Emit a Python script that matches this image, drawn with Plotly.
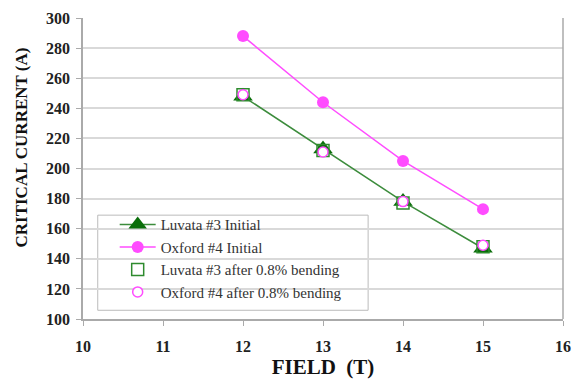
import plotly.graph_objects as go

field = [12, 13, 14, 15]
luvata_initial = [248, 213, 178, 147]
oxford_initial = [288, 244, 205, 173]
luvata_bent = [249, 212, 177, 148]
oxford_bent = [249, 211, 178, 149]

names = ["Luvata #3 Initial", "Oxford #4 Initial",
         "Luvata #3 after 0.8% bending", "Oxford #4 after 0.8% bending"]

x_ticks = [10, 11, 12, 13, 14, 15, 16]
y_ticks = [100, 120, 140, 160, 180, 200, 220, 240, 260, 280, 300]

green_line = "#3C8C3C"
green_fill = "#0A6E0A"
pink = "#FF4CFF"
serif = "Liberation Serif, Times New Roman, serif"

fig = go.Figure()
fig.add_trace(go.Scatter(x=field, y=luvata_initial, mode="lines+markers", name=names[0],
                         line=dict(color=green_line, width=1.5),
                         marker=dict(symbol="triangle-up", size=17, color=green_fill)))
fig.add_trace(go.Scatter(x=field, y=oxford_initial, mode="lines+markers", name=names[1],
                         line=dict(color=pink, width=1.5),
                         marker=dict(symbol="circle", size=12, color=pink)))
fig.add_trace(go.Scatter(x=field, y=luvata_bent, mode="markers", name=names[2],
                         marker=dict(symbol="square-open", size=12, color="#2E8B2E", line=dict(width=1.5))))
fig.add_trace(go.Scatter(x=field, y=oxford_bent, mode="markers", name=names[3],
                         marker=dict(symbol="circle", size=10, color="white",
                                     line=dict(color=pink, width=1.5))))

fig.update_layout(
    width=581, height=381,
    margin=dict(l=83, r=10, t=11, b=62),
    paper_bgcolor="white", plot_bgcolor="white",
    font=dict(family=serif, color="#222222"),
    legend=dict(x=0.066, y=0.036, xanchor="left", yanchor="bottom",
                bgcolor="rgba(0,0,0,0)", borderwidth=0,
                font=dict(family=serif, size=15, color="#333333"),
                tracegroupgap=0, itemsizing="trace", itemwidth=36),
    showlegend=True,
)
fig.update_xaxes(range=[10, 16], tickvals=x_ticks, ticktext=[f"<b>{v}</b>" for v in x_ticks],
                 showgrid=False,
                 showline=True, linecolor="#AAAAAA", linewidth=1.5,
                 ticks="outside", ticklen=5, tickcolor="#AAAAAA", ticklabelstandoff=7,
                 tickfont=dict(family=serif, size=16, color="#222222"),
                 title=dict(text="<b>FIELD  (T)</b>", font=dict(family=serif, size=21, color="#111111"), standoff=0),
                 zeroline=False)
fig.update_yaxes(range=[100, 300], tickvals=y_ticks, ticktext=[f"<b>{v}</b>" for v in y_ticks],
                 showgrid=True, gridcolor="#D9D9D9", gridwidth=1.5,
                 showline=True, linecolor="#AAAAAA", linewidth=1.5,
                 ticks="outside", ticklen=5, tickcolor="#AAAAAA", ticklabelstandoff=3,
                 tickfont=dict(family=serif, size=16, color="#222222"),
                 zeroline=False)
fig.add_annotation(text="<b>CRITICAL CURRENT (A)</b>", textangle=-90,
                   xref="paper", yref="paper", x=-0.129, y=0.57, xanchor="center", yanchor="middle",
                   showarrow=False, font=dict(family=serif, size=17, color="#111111"))
fig.add_shape(type="line", xref="paper", yref="paper", x0=1, x1=1, y0=0, y1=1,
              line=dict(color="#AAAAAA", width=1.5))
# legend frame
fig.add_shape(type="rect", xref="paper", yref="paper", x0=0.0307, x1=0.594, y0=0.029, y1=0.345,
              line=dict(color="#BBBBBB", width=1), fillcolor="white", layer="below")

fig.write_html("out.html")
